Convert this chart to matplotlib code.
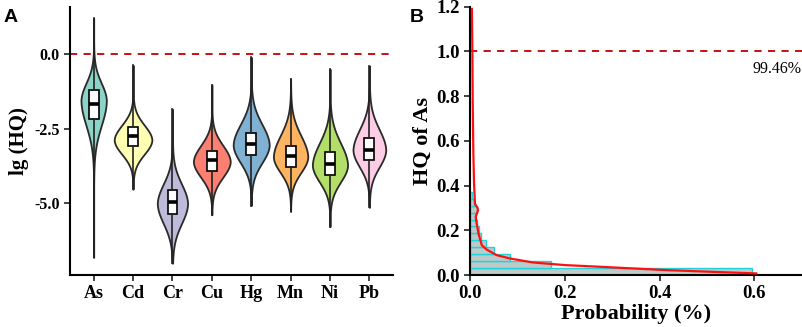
import numpy as np
import matplotlib
matplotlib.use("Agg")
import matplotlib.pyplot as plt

# ---- panel A: violins of lg(HQ) ----
metals = ["As", "Cd", "Cr", "Cu", "Hg", "Mn", "Ni", "Pb"]
colors = ["#8DD3C7", "#FFFFB3", "#BEBADA", "#FB8072",
          "#80B1D3", "#FDB462", "#B3DE69", "#FCCDE5"]
v_min = [-6.84, -4.54, -7.03, -5.40, -5.09, -5.29, -5.80, -5.15]
v_max = [1.22, -0.36, -1.84, -1.02, -0.09, -0.82, -0.49, -0.38]
q1 = [-2.17, -3.07, -5.37, -3.91, -3.38, -3.78, -4.06, -3.57]
med = [-1.67, -2.74, -4.98, -3.55, -3.01, -3.42, -3.69, -3.21]
q3 = [-1.21, -2.44, -4.58, -3.24, -2.63, -3.07, -3.29, -2.82]
# violin shape: mode, spread above / below, half width
v_mode = [-1.55, -2.88, -5.02, -3.61, -3.05, -3.45, -3.73, -3.22]
s_up = [0.59, 0.50, 0.66, 0.55, 0.70, 0.72, 0.75, 0.70]
s_down = [0.85, 0.48, 0.68, 0.53, 0.60, 0.53, 0.57, 0.58]
half_w = [0.31, 0.46, 0.37, 0.45, 0.44, 0.42, 0.43, 0.40]

# ---- panel B: HQ of As ----
bin_w = 0.031
bar_prob = [0.595, 0.171, 0.084, 0.050, 0.033, 0.023, 0.018, 0.014,
            0.012, 0.015, 0.008, 0.004]
curve_prob = [0.604, 0.413, 0.273, 0.203, 0.133, 0.084, 0.056, 0.035, 0.025,
              0.018, 0.013, 0.012, 0.017, 0.016, 0.0105, 0.0085, 0.007,
              0.0057, 0.005, 0.004]
curve_hq = [0.007, 0.022, 0.037, 0.044, 0.056, 0.074, 0.089, 0.114, 0.133,
            0.185, 0.244, 0.26, 0.29, 0.30, 0.318, 0.41, 0.556, 0.78, 1.0, 1.19]
safe_pct = "99.46%"

serif = "Liberation Serif"
fig = plt.figure(figsize=(8.03, 3.27), dpi=100)
axA = fig.add_axes([0.0872, 0.159, 0.4022, 0.8196])
axB = fig.add_axes([0.5853, 0.159, 0.4131, 0.8205])

for ax in (axA, axB):
    for s in ("top", "right"):
        ax.spines[s].set_visible(False)
    for s in ("left", "bottom"):
        ax.spines[s].set_linewidth(1.5)
    ax.tick_params(direction="out", length=4, width=1.2, color="#222222")

for i, m in enumerate(metals):
    y = np.linspace(v_min[i], v_max[i], 400)
    d = y - v_mode[i]
    s = np.where(d > 0, s_up[i], s_down[i])
    w = half_w[i] * (np.exp(-0.5 * (d / s) ** 2) + 0.04 * np.exp(-np.abs(d) / s))
    axA.fill_betweenx(y, i - w, i + w, facecolor=colors[i],
                      edgecolor="#2a2a2a", linewidth=1.3, zorder=2)

stats = [dict(med=med[i], q1=q1[i], q3=q3[i], whislo=v_min[i], whishi=v_max[i],
              fliers=[]) for i in range(len(metals))]
axA.bxp(stats, positions=range(len(metals)), widths=0.25, showcaps=False,
        patch_artist=True, manage_ticks=False, zorder=3,
        boxprops=dict(facecolor="white", edgecolor="black", linewidth=1.2),
        whiskerprops=dict(color="#222222", linewidth=1.2),
        medianprops=dict(color="black", linewidth=2.6))
axA.axhline(0, color="#C00000", linestyle=(0, (4, 3.5)), linewidth=1.3, zorder=1)
axA.set_xlim(-0.6, 7.6)
axA.set_ylim(-7.43, 1.6)
axA.set_xticks(range(len(metals)))
axA.set_xticklabels(metals, fontfamily=serif, fontweight="bold", fontsize=13)
axA.set_yticks([0.0, -2.5, -5.0])
axA.set_yticklabels(["0.0", "-2.5", "-5.0"], fontfamily=serif,
                    fontweight="bold", fontsize=11.5)
axA.set_ylabel("lg (HQ)", fontfamily=serif, fontweight="bold", fontsize=15,
               labelpad=4)

edges = np.arange(len(bar_prob)) * bin_w
axB.barh(edges, bar_prob, height=bin_w, align="edge", color="#BCCBC9",
         edgecolor="#1FD3DA", linewidth=1.0, zorder=2)
axB.plot(curve_prob, curve_hq, color="#FF1010", linewidth=1.6, zorder=3)
axB.axhline(1.0, color="#C00000", linestyle=(0, (4, 3.5)), linewidth=1.3, zorder=1)
axB.text(0.70, 0.92, safe_pct, ha="right", va="center", fontfamily=serif,
         fontsize=11.5)
axB.set_xlim(0, 0.7)
axB.set_ylim(0, 1.2)
axB.set_xticks([0.0, 0.2, 0.4, 0.6])
axB.set_yticks(np.arange(0, 1.21, 0.2))
axB.set_xticklabels(["0.0", "0.2", "0.4", "0.6"], fontfamily=serif,
                    fontweight="bold", fontsize=13.5)
axB.set_yticklabels(["0.0", "0.2", "0.4", "0.6", "0.8", "1.0", "1.2"],
                    fontfamily=serif, fontweight="bold", fontsize=13.5)
axB.set_xlabel("Probability (%)", fontfamily=serif, fontweight="bold",
               fontsize=16, labelpad=1)
axB.set_ylabel("HQ of As", fontfamily=serif, fontweight="bold", fontsize=16,
               labelpad=2)

fig.text(0.004, 0.932, "A", fontfamily="Liberation Sans", fontweight="bold",
         fontsize=14)
fig.text(0.510, 0.932, "B", fontfamily="Liberation Sans", fontweight="bold",
         fontsize=14)

fig.savefig("out.png", dpi=100)
